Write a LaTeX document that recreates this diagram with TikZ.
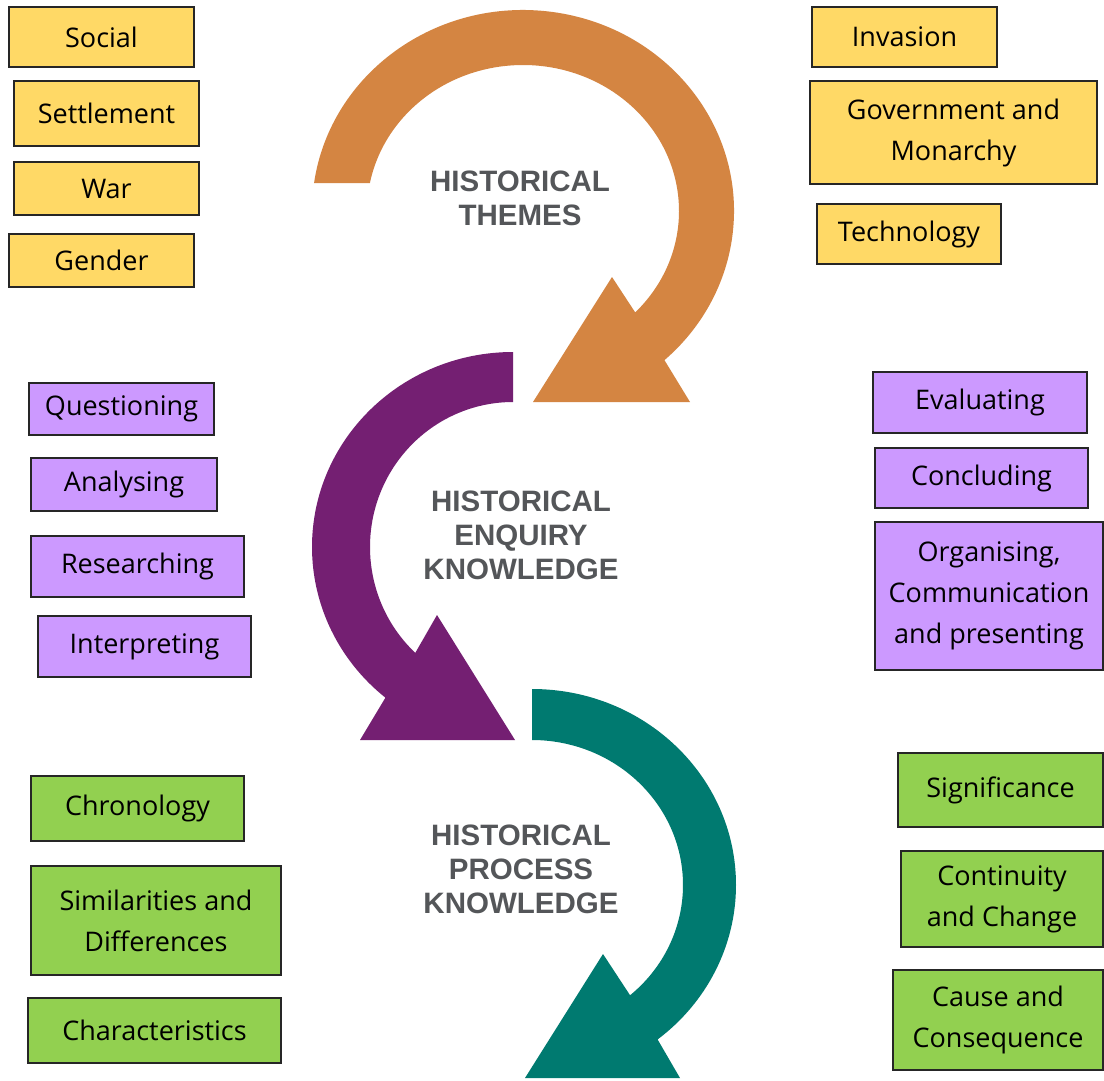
\documentclass[tikz,border=0pt]{standalone}
\usepackage{fontspec}
\setmainfont{Open Sans}
\newfontfamily\headfont{Liberation Sans}
\usetikzlibrary{calc}

\definecolor{themeorange}{RGB}{212,133,66}
\definecolor{enquirypurple}{RGB}{116,31,114}
\definecolor{processteal}{RGB}{0,122,112}
\definecolor{headgray}{RGB}{84,86,89}
\definecolor{boxyellow}{RGB}{255,217,102}
\definecolor{boxlilac}{RGB}{204,153,255}
\definecolor{boxgreen}{RGB}{146,208,80}
\definecolor{boxline}{RGB}{38,38,38}

\tikzset{
  tag/.style={draw=boxline, line width=1.8pt, inner sep=0pt, align=center,
    font=\fontsize{27}{41}\selectfont},
  ytag/.style={tag, fill=boxyellow},
  ptag/.style={tag, fill=boxlilac},
  gtag/.style={tag, fill=boxgreen},
  headlabel/.style={align=center, text=headgray,
    font=\headfont\bfseries\fontsize{29.5}{34}\selectfont},
}

\begin{document}
\begin{tikzpicture}[x=1pt,y=1pt]
\useasboundingbox (0,0) rectangle (1104,-1080);
\fill[white] (0,0) rectangle (1104,-1080);

% ring centres
\coordinate (oc) at (523,-211);
\coordinate (pc) at (513,-547);
\coordinate (tc) at (532,-885);

% orange circular arrow (themes)
\fill[themeorange]
  ($(oc)+(172:211pt and 201pt)$)
  arc[start angle=172, end angle=-47.9, x radius=211pt, y radius=201pt]
  -- (690,-402) -- (533,-402) -- (612,-277)
  -- ($(oc)+(-44:156pt and 146pt)$)
  arc[start angle=-44, end angle=169, x radius=156pt, y radius=146pt]
  -- cycle;

% purple circular arrow (enquiry)
\fill[enquirypurple]
  ($(pc)+(90:201pt and 195pt)$)
  arc[start angle=90, end angle=230.6, x radius=201pt, y radius=195pt]
  -- (360,-740) -- (515,-740) -- (437,-615)
  -- ($(pc)+(226.9:143pt and 145pt)$)
  arc[start angle=226.9, end angle=90, x radius=143pt, y radius=145pt]
  -- cycle;

% teal circular arrow (process)
\fill[processteal]
  ($(tc)+(90:204pt and 196pt)$)
  arc[start angle=90, end angle=-52, x radius=204pt, y radius=196pt]
  -- (680,-1078) -- (525,-1078) -- (603,-954)
  -- ($(tc)+(-49.5:151pt and 145pt)$)
  arc[start angle=-49.5, end angle=90, x radius=151pt, y radius=145pt]
  -- cycle;

% headings inside the rings
\node[headlabel] (themes)  at (520,-198) {HISTORICAL\\THEMES};
\node[headlabel] (enquiry) at (521,-535) {HISTORICAL\\ENQUIRY\\KNOWLEDGE};
\node[headlabel] (process) at (521,-869) {HISTORICAL\\PROCESS\\KNOWLEDGE};

% themes
\node[ytag, minimum width=185pt, minimum height=60pt]  (social)     at (101.5,-37)   {Social};
\node[ytag, minimum width=185pt, minimum height=65pt]  (settlement) at (106.5,-113.5) {Settlement};
\node[ytag, minimum width=185pt, minimum height=53pt]  (war)        at (106.5,-188.5) {War};
\node[ytag, minimum width=185pt, minimum height=53pt]  (gender)     at (101.5,-260.5) {Gender};
\node[ytag, minimum width=185pt, minimum height=60pt]  (invasion)   at (904.5,-37)   {Invasion};
\node[ytag, minimum width=287pt, minimum height=103pt] (government) at (953.5,-132.5) {Government and\\Monarchy};
\node[ytag, minimum width=184pt, minimum height=60pt]  (technology) at (909,-234)    {Technology};

% enquiry skills
\node[ptag, minimum width=185pt, minimum height=52pt]  (questioning)  at (121.5,-409)   {Questioning};
\node[ptag, minimum width=186pt, minimum height=53pt]  (analysing)    at (124,-484.5)   {Analysing};
\node[ptag, minimum width=213pt, minimum height=61pt]  (researching)  at (137.5,-566.5) {Researching};
\node[ptag, minimum width=213pt, minimum height=61pt]  (interpreting) at (144.5,-646.5) {Interpreting};
\node[ptag, minimum width=214pt, minimum height=61pt]  (evaluating)   at (980,-402.5)   {Evaluating};
\node[ptag, minimum width=213pt, minimum height=60pt]  (concluding)   at (981.5,-478)   {Concluding};
\node[ptag, minimum width=228pt, minimum height=148pt] (organising)   at (989,-596)     {Organising,\\Communication\\and presenting};

% process concepts
\node[gtag, minimum width=213pt, minimum height=65pt]  (chronology)      at (137.5,-808.5) {Chronology};
\node[gtag, minimum width=250pt, minimum height=109pt] (similarities)    at (156,-920.5)   {Similarities and\\Differences};
\node[gtag, minimum width=253pt, minimum height=65pt]  (characteristics) at (154.5,-1030.5) {Characteristics};
\node[gtag, minimum width=205pt, minimum height=74pt]  (significance)    at (1000.5,-790)  {Significance};
\node[gtag, minimum width=202pt, minimum height=96pt]  (continuity)      at (1002,-899)    {Continuity\\and Change};
\node[gtag, minimum width=210pt, minimum height=100pt] (cause)           at (998,-1020)    {Cause and\\Consequence};
\end{tikzpicture}
\end{document}
